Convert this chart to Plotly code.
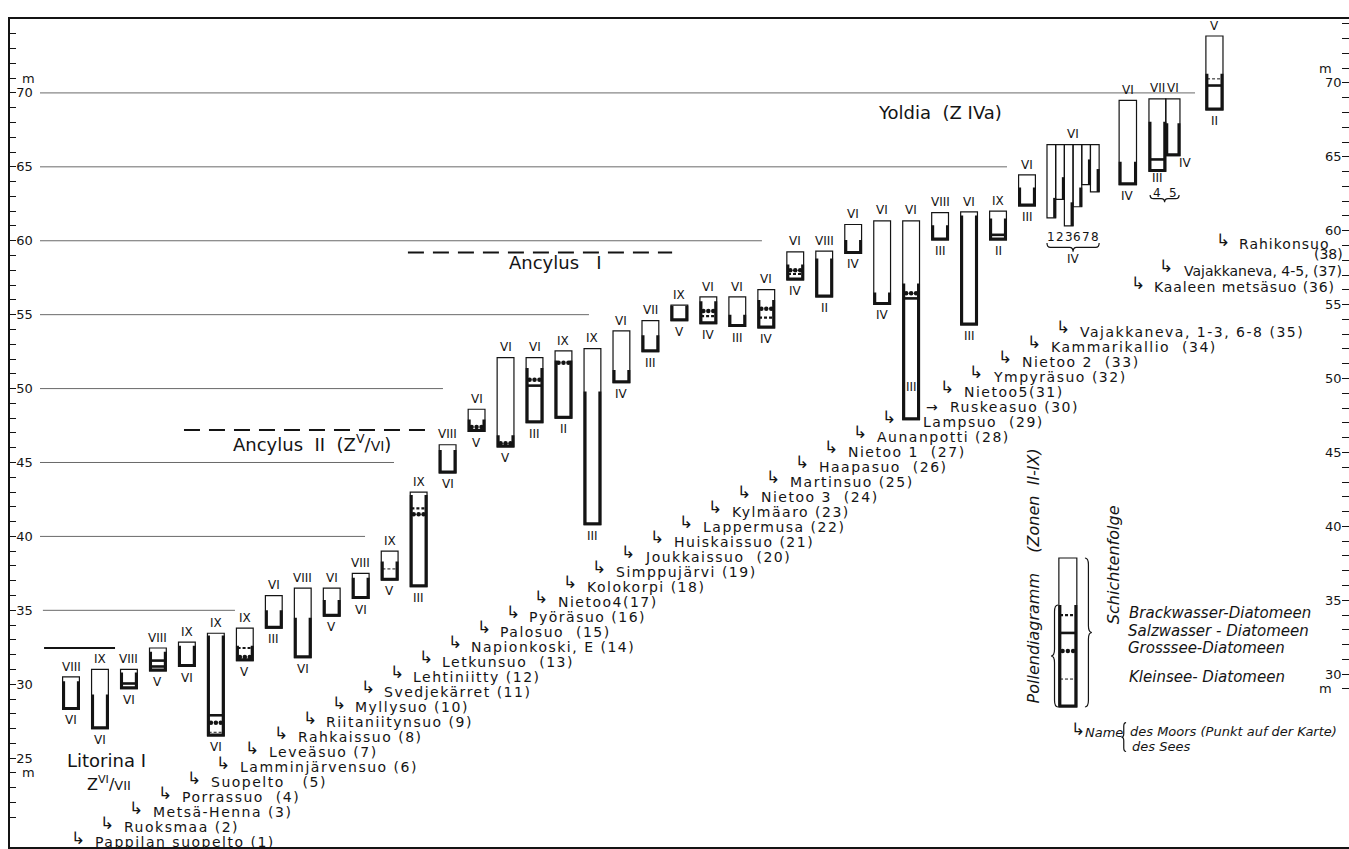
import plotly.graph_objects as go

# ---------------------------------------------------------------- data
site_names = [
    "Pappilan suopelto (1)", "Ruoksmaa (2)", "Metsä-Henna (3)", "Porrassuo  (4)",
    "Suopelto   (5)", "Lamminjärvensuo (6)", "Leveäsuo (7)", "Rahkaissuo (8)",
    "Riitaniitynsuo (9)", "Myllysuo (10)", "Svedjekärret (11)", "Lehtiniitty (12)",
    "Letkunsuo  (13)", "Napionkoski, E (14)", "Palosuo  (15)", "Pyöräsuo (16)",
    "Nietoo4(17)", "Kolokorpi (18)", "Simppujärvi (19)", "Joukkaissuo  (20)",
    "Huiskaissuo (21)", "Lappermusa (22)", "Kylmäaro (23)", "Nietoo 3  (24)",
    "Martinsuo (25)", "Haapasuo  (26)", "Nietoo 1  (27)", "Aunanpotti (28)",
    "Lampsuo  (29)", "Ruskeasuo (30)", "Nietoo5(31)", "Ympyräsuo (32)",
    "Nietoo 2  (33)", "Kammarikallio  (34)", "Vajakkaneva, 1-3, 6-8 (35)",
    "Kaaleen metsäsuo (36)", "Vajakkaneva, 4-5, (37)", "Rahikonsuo (38)",
]

# one entry per drawn core (site 35 has six cores, site 37 two)
core_site = list(range(1, 35)) + [35] * 6 + [36] + [37, 37] + [38]
core_sub = [""] * 34 + ["1", "2", "3", "6", "7", "8"] + [""] + ["4", "5"] + [""]

core_top = [30.5, 31.0, 31.0, 32.45, 32.85, 33.45, 33.8, 36.0, 36.5, 36.5,
            37.5, 39.0, 43.0, 46.2, 48.6, 52.1, 52.1, 52.55, 52.7, 53.9,
            54.6, 55.65, 56.2, 56.2, 56.7, 59.25, 59.3, 61.1, 61.35, 61.35,
            61.9, 61.95, 62.0, 64.45,
            66.5, 66.5, 66.5, 66.5, 66.5, 66.5, 69.5, 69.6, 69.6, 73.85]
core_bottom = [28.3, 27.0, 29.7, 30.9, 31.2, 26.5, 31.6, 33.8, 31.8, 34.6,
               35.8, 37.05, 36.6, 44.3, 47.1, 46.05, 47.7, 48.0, 40.8, 50.4,
               52.5, 54.6, 54.4, 54.2, 54.1, 57.35, 56.2, 59.15, 55.7, 47.9,
               60.05, 54.3, 60.05, 62.35,
               61.55, 62.8, 61.0, 62.3, 63.8, 63.3, 63.8, 64.7, 65.75, 68.85]
# upper limit of the sediment sequence (heavy walls)
core_layer_top = [30.2, 29.3, 30.8, 32.2, 32.6, 33.3, 32.6, 35.0, 34.5, 35.7,
                  37.2, 38.3, 42.8, 45.85, 47.9, 46.85, 51.4, 51.9, 49.8, 51.25,
                  53.6, 55.6, 55.9, 55.0, 56.0, 58.4, 58.8, 60.05, 56.5, 57.1,
                  61.05, 61.7, 61.5, 63.6,
                  62.9, 64.3, 62.6, 63.6, 65.5, 64.85, 65.35, 68.05, 67.95, 71.3]
zone_top = ["VIII", "IX", "VIII", "VIII", "IX", "IX", "IX", "VI", "VIII", "VI",
            "VIII", "IX", "IX", "VIII", "VI", "VI", "VI", "IX", "IX", "VI",
            "VII", "IX", "VI", "VI", "VI", "VI", "VIII", "VI", "VI", "VI",
            "VIII", "VI", "IX", "VI",
            "", "", "", "", "", "", "VI", "VII", "VI", "V"]
zone_bottom = ["VI", "VI", "VI", "V", "VI", "VI", "V", "III", "VI", "V",
               "VI", "V", "III", "VI", "V", "V", "III", "II", "III", "IV",
               "III", "V", "IV", "III", "IV", "IV", "II", "IV", "IV", "III",
               "III", "III", "II", "III",
               "", "", "", "", "", "", "IV", "III", "IV", "II"]
group35_zone_top, group35_zone_bottom = "VI", "IV"

# diatom horizons: core number (1-based), kind, level (m)
marker_core = [3, 4, 4, 6, 6, 6, 7, 7, 12, 13, 13, 15, 16, 17, 17, 18,
               23, 23, 25, 25, 26, 26, 30, 30, 33, 42, 44, 44]
marker_kind = ["salz", "salz", "salz", "salz", "gross", "klein", "brack", "gross",
               "klein", "brack", "gross", "gross", "gross", "gross", "salz", "gross",
               "gross", "brack", "gross", "brack", "gross", "brack", "gross", "salz",
               "salz", "salz", "klein", "salz"]
marker_level = [30.05, 31.6, 31.2, 27.9, 27.4, 26.75, 32.45, 31.85,
                37.8, 41.9, 41.5, 47.4, 46.3, 50.6, 50.2, 51.75,
                55.25, 54.9, 55.4, 54.8, 58.0, 57.75, 56.45, 56.1,
                60.4, 65.5, 70.95, 70.5]

shore_levels = [70, 65, 60, 55, 50, 45, 40, 35]
stage_texts = ["Litorina I", "Ancylus II", "Ancylus I", "Yoldia (Z IVa)"]
stage_levels = [32.45, 47.2, 59.2, 70.0]

left_ticks = list(range(21, 75))
right_ticks = list(range(29, 76))
tick_labels = [25, 30, 35, 40, 45, 50, 55, 60, 65, 70]

# ---------------------------------------------------------------- layout
FONT = "DejaVu Sans"
INK = "#141414"
X0, X1 = -1.1056, 45.115
Y0, Y1 = 18.99, 75.0
RIGHT_SHIFT = 0.68          # right-hand scale sits slightly higher on the sheet
W = 0.58
NB = "\u00a0"

shapes, annos = [], []


def seg(x0, y0, x1, y1, width=1.0, color=INK, dash=None):
    ln = dict(color=color, width=width)
    if dash:
        ln["dash"] = dash
    shapes.append(dict(type="line", xref="x", yref="y", x0=x0, y0=y0,
                       x1=x1, y1=y1, line=ln, layer="above"))


def txt(x, y, s, size=14, xanchor="center", yanchor="middle", angle=0, yref="y"):
    annos.append(dict(x=x, y=y, xref="x", yref=yref, text=s, showarrow=False,
                      xanchor=xanchor, yanchor=yanchor, textangle=angle,
                      font=dict(family=FONT, size=size, color=INK)))


def spaced(s, px):
    if px <= 0:
        return s
    return f"<span style='letter-spacing:{px}px'>{s}</span>"


def path(p, width=1.2):
    shapes.append(dict(type="path", xref="x", yref="y", path=p,
                       line=dict(color=INK, width=width), layer="above"))


def vbrace(x, y0, y1, d, dx=0.12, r=0.45):
    ym = (y0 + y1) / 2
    xa, xt = x + d * dx, x + 2 * d * dx
    path(f"M {x},{y1} Q {xa},{y1} {xa},{y1 - r} L {xa},{ym + r} Q {xa},{ym} {xt},{ym} "
         f"Q {xa},{ym} {xa},{ym - r} L {xa},{y0 + r} Q {xa},{y0} {x},{y0}")


def hbrace(x0, x1, y, h=0.3, r=0.12):
    xm = (x0 + x1) / 2
    path(f"M {x0},{y + h} Q {x0},{y} {x0 + r},{y} L {xm - r},{y} Q {xm},{y} {xm},{y - h} "
         f"Q {xm},{y} {xm + r},{y} L {x1 - r},{y} Q {x1},{y} {x1},{y + h}")


def core_geom(k):
    site = core_site[k]
    if site <= 34:
        return float(site), W
    if site == 35:
        j = k - 34
        return 34.69 + 0.3 * (j + 0.5), 0.3
    if site == 36:
        return 37.48, 0.6
    if site == 37:
        return (38.5, 0.58) if core_sub[k] == "4" else (39.035, 0.49)
    return 40.47, 0.59


dot_x, dot_y = [], []


def draw_core(xc, w, top, bot, layer_top, right_only=False):
    xl, xr = xc - w / 2, xc + w / 2
    shapes.append(dict(type="rect", xref="x", yref="y", x0=xl, x1=xr, y0=bot, y1=top,
                       line=dict(color=INK, width=1.2), fillcolor="rgba(0,0,0,0)",
                       layer="above"))
    ins = 0.035
    if right_only:
        path(f"M {xr - ins},{layer_top} L {xr - ins},{bot}", width=3)
    else:
        path(f"M {xl + ins},{layer_top} L {xl + ins},{bot + 0.06} "
             f"L {xr - ins},{bot + 0.06} L {xr - ins},{layer_top}", width=3)


def draw_marker(xc, w, kind, lev):
    xl, xr = xc - w / 2 + 0.04, xc + w / 2 - 0.04
    if kind == "gross":
        for dx in (-0.17, 0.0, 0.17):
            dot_x.append(xc + dx * w / 0.58)
            dot_y.append(lev)
    elif kind == "brack":
        seg(xl, lev, xr, lev, width=2.2, dash="3px,2px")
    elif kind == "salz":
        seg(xl, lev, xr, lev, width=2.6)
    else:
        seg(xl, lev, xr, lev, width=1.0, dash="3px,2px")


# shoreline reference lines
shore_end = {70: 39.8, 65: 33.31, 60: 24.85, 55: 18.88, 50: 13.84, 45: 12.15, 40: 11.15, 35: 6.66}
for lev in shore_levels:
    seg(-0.07 if lev != 35 else 0.03, lev, shore_end[lev], lev, width=1.0, color="#6a6a6a")

# stage levels
seg(0.07, stage_levels[0], 2.52, stage_levels[0], width=2.0)
seg(4.9, stage_levels[1], 13.22, stage_levels[1], width=2.0, dash="16px,9px")
seg(12.63, stage_levels[2], 21.75, stage_levels[2], width=2.0, dash="16px,9px")
txt(2.24, 24.87, stage_texts[0], size=18)
txt(2.3, 23.3, "Z<sup>VI</sup>/<span style='font-size:13px'>VII</span>", size=16)
txt(9.32, 46.32, f"Ancylus{NB}{NB}II{NB}{NB}(Z<sup>V</sup>/<span style='font-size:14px'>VI</span>)", size=18)
txt(17.71, 58.5, f"Ancylus{NB}{NB}{NB}I", size=18)
txt(31.0, 68.7, f"Yoldia{NB}{NB}(Z{NB}IVa)", size=18)

# cores
for k in range(len(core_site)):
    xc, w = core_geom(k)
    draw_core(xc, w, core_top[k], core_bottom[k], core_layer_top[k],
              right_only=(core_site[k] == 35))
    if zone_top[k]:
        txt(xc, core_top[k] + 0.7, zone_top[k], size=12)
    if zone_bottom[k]:
        if core_site[k] == 30:
            txt(xc, 50.1, zone_bottom[k], size=12)
        elif core_site[k] == 37 and core_sub[k] == "5":
            txt(xc + 0.45, core_bottom[k] - 0.5, zone_bottom[k], size=12)
        elif core_site[k] == 37:
            txt(xc, core_bottom[k] - 0.45, zone_bottom[k], size=12)
        else:
            txt(xc, core_bottom[k] - 0.75, zone_bottom[k], size=12)
    if core_site[k] in (35, 37):
        lev = 60.25 if core_site[k] == 35 else 63.25
        txt(xc, lev, core_sub[k], size=12)

for c, kind, lev in zip(marker_core, marker_kind, marker_level):
    xc, w = core_geom(c - 1)
    draw_marker(xc, w, kind, lev)

# group annotations for Vajakkaneva
txt(35.59, 67.2, group35_zone_top, size=12)
hbrace(34.69, 36.49, 59.55)
txt(35.59, 58.75, group35_zone_bottom, size=12)
hbrace(38.25, 39.25, 62.85, h=0.25)

# site names
for i, name in enumerate(site_names, start=1):
    name = name.replace("  ", NB * 2)
    tx = i + 0.75
    lev = 19.33 + (i - 1) * 1.015
    ax, arrow = tx - 0.82, "↳"
    gap = 1.5
    if i == 29:
        tx += 0.6
    elif i == 30:
        tx, ax, arrow = 31.27, 30.45, "→"
    elif i == 36:
        tx, ax, lev, gap = 38.31, 37.53, 56.87, 0.9
    elif i == 37:
        tx, ax, lev, gap = 39.35, 38.5, 57.96, 0.0
    elif i == 38:
        tx, ax, lev, gap = 41.25, 40.47, 59.78, 1.0
    if i == 38:
        base, num = name.rsplit(" ", 1)
        txt(tx, lev, spaced(base, gap), size=14, xanchor="left")
        txt(44.98, lev - 0.7, num, size=14, xanchor="right")
    else:
        txt(tx, lev, spaced(name, gap), size=14, xanchor="left")
    if arrow == "→":
        txt(ax, lev, arrow, size=14, xanchor="left")
    else:
        txt(ax, lev + 0.3, arrow, size=17, xanchor="left")

# key
kx, kw = 35.41, 0.62
draw_core(kx, kw, 38.54, 28.46, 35.36)
for kind, lev in (("brack", 34.68), ("salz", 33.47), ("gross", 32.25), ("klein", 30.35)):
    draw_marker(kx, kw, kind, lev)
vbrace(35.07, 28.46, 35.36, -1, dx=0.12)
vbrace(36.0, 28.46, 38.54, 1, dx=0.12)
txt(34.21, 37.3, f"<i>Pollendiagramm{NB}{NB}{NB}{NB}(Zonen{NB}{NB}II-IX)</i>", size=16, angle=-90)
txt(36.97, 38.06, "<i>Schichtenfolge</i>", size=16, angle=-90)
txt(37.45, 34.82, "<i>Brackwasser-Diatomeen</i>", size=15, xanchor="left")
txt(37.4, 33.6, "<i>Salzwasser - Diatomeen</i>", size=15, xanchor="left")
txt(37.4, 32.45, "<i>Grosssee-Diatomeen</i>", size=15, xanchor="left")
txt(37.45, 30.49, "<i>Kleinsee- Diatomeen</i>", size=15, xanchor="left")
txt(35.45, 27.0, "↳", size=17, xanchor="left")
txt(35.95, 26.75, "<i>Name</i>", size=13, xanchor="left")
vbrace(37.42, 25.45, 27.4, -1, dx=0.08, r=0.25)
txt(37.5, 26.83, "<i>des Moors (Punkt auf der Karte)</i>", size=13, xanchor="left")
txt(37.55, 25.82, "<i>des Sees</i>", size=13, xanchor="left")

# unit marks beside the scales
txt(-0.48, 71.0, "m", size=13)
txt(-0.48, 24.0, "m", size=13)
txt(44.29, 71.0, "m", size=13, yref="y2")
txt(44.29, 29.0, "m", size=13, yref="y2")

fig = go.Figure()
fig.add_trace(go.Scatter(x=dot_x, y=dot_y, mode="markers",
                         marker=dict(size=4.5, color=INK), hoverinfo="skip",
                         showlegend=False))
fig.add_trace(go.Scatter(x=[X0], y=[Y0], mode="markers", yaxis="y2",
                         marker=dict(opacity=0), hoverinfo="skip", showlegend=False))


def tick_text(vals, low):
    return [str(v) if (v in tick_labels and v >= low) else "" for v in vals]


fig.update_layout(
    width=1349, height=849,
    margin=dict(l=10, r=0, t=19, b=2),
    paper_bgcolor="white", plot_bgcolor="white",
    showlegend=False,
    shapes=shapes, annotations=annos,
    xaxis=dict(range=[X0, X1], showgrid=False, zeroline=False, showticklabels=False,
               ticks="", showline=True, linecolor=INK, linewidth=1.5, mirror=True),
    yaxis=dict(range=[Y0, Y1], showgrid=False, zeroline=False,
               tickmode="array", tickvals=left_ticks, ticktext=tick_text(left_ticks, 25),
               ticks="inside", ticklen=6, tickcolor=INK, tickwidth=1.2,
               ticklabelposition="inside", showline=True, linecolor=INK, linewidth=1.5,
               tickfont=dict(family=FONT, size=13, color=INK)),
    yaxis2=dict(range=[Y0 - RIGHT_SHIFT, Y1 - RIGHT_SHIFT], overlaying="y", side="right",
                showgrid=False, zeroline=False, tickmode="array", tickvals=right_ticks,
                ticktext=tick_text(right_ticks, 30), ticks="inside", ticklen=7,
                tickcolor=INK, tickwidth=1.2, ticklabelposition="inside",
                showline=False, tickfont=dict(family=FONT, size=13, color=INK)),
)

fig.write_html("out.html")
